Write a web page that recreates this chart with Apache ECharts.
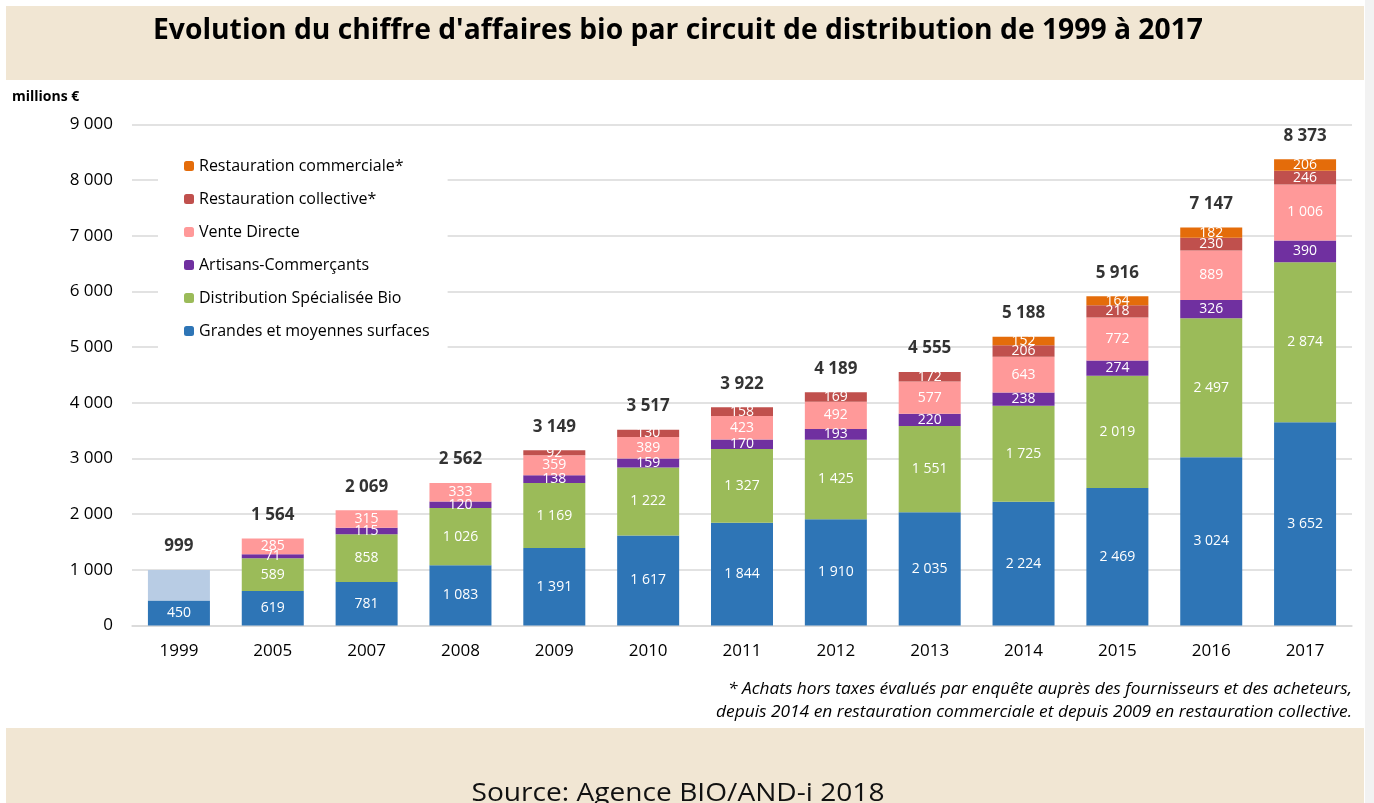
<!DOCTYPE html>
<html lang="fr">
<head>
    <meta charset="UTF-8">
    <title>Evolution du chiffre d'affaires bio</title>
    <style>
        html, body { margin: 0; padding: 0; background: #fff; }
        #main { width: 1374px; height: 803px; }
    </style>
</head>
<body>
    <div id="main"></div>

    <script src="https://cdn.jsdelivr.net/npm/echarts@6/dist/echarts.min.js"></script>
    <script>
        // données (millions €)
        var years = ['1999', '2005', '2007', '2008', '2009', '2010', '2011', '2012', '2013', '2014', '2015', '2016', '2017'];
        var grandesSurfaces = [450, 619, 781, 1083, 1391, 1617, 1844, 1910, 2035, 2224, 2469, 3024, 3652];
        var reste1999 = [549, null, null, null, null, null, null, null, null, null, null, null, null];
        var distribSpecialisee = [null, 589, 858, 1026, 1169, 1222, 1327, 1425, 1551, 1725, 2019, 2497, 2874];
        var artisans = [null, 71, 115, 120, 138, 159, 170, 193, 220, 238, 274, 326, 390];
        var venteDirecte = [null, 285, 315, 333, 359, 389, 423, 492, 577, 643, 772, 889, 1006];
        var restoCollective = [null, null, null, null, 92, 130, 158, 169, 172, 206, 218, 230, 246];
        var restoCommerciale = [null, null, null, null, null, null, null, null, null, 152, 164, 182, 206];
        var totals = [999, 1564, 2069, 2562, 3149, 3517, 3922, 4189, 4555, 5188, 5916, 7147, 8373];
        var yTicks = [0, 1000, 2000, 3000, 4000, 5000, 6000, 7000, 8000, 9000];

        var legendNames = ['Restauration commerciale*', 'Restauration collective*', 'Vente Directe',
            'Artisans-Commerçants', 'Distribution Spécialisée Bio', 'Grandes et moyennes surfaces'];

        var title = "Evolution du chiffre d'affaires bio par circuit de distribution de 1999 à 2017";
        var note1 = '* Achats hors taxes évalués par enquête auprès des fournisseurs et des acheteurs,';
        var note2 = 'depuis 2014 en restauration commerciale et depuis 2009 en restauration collective.';
        var source = 'Source: Agence BIO/AND-i 2018';

        // 1 000 -> "1 000"
        function fmt(v) {
            return String(v).replace(/\B(?=(\d{3})+(?!\d))/g, ' ');
        }

        // pas de police condensée installée : on mesure et on écrase en largeur
        var ctx = document.createElement('canvas').getContext('2d');
        function squeeze(text, font, target) {
            ctx.font = font;
            return target / ctx.measureText(text).width;
        }

        function barSeries(name, data, color, showLabel) {
            return {
                name: name,
                type: 'bar',
                stack: 'ca',
                barWidth: 62,
                data: data,
                itemStyle: { color: color },
                label: {
                    show: showLabel,
                    position: 'inside',
                    color: '#fff',
                    fontSize: 14,
                    fontFamily: 'Open Sans',
                    formatter: function (p) { return p.value ? fmt(p.value) : ''; }
                }
            };
        }

        var chardom = document.getElementById('main');
        var mychart = echarts.init(chardom);

        var titleFont = '700 29px "Open Sans"';
        var noteFont = 'italic 500 16px "Open Sans"';
        var sourceFont = '26px "Open Sans"';

        var option = {
            animation: false,
            textStyle: { fontFamily: 'Open Sans' },
            grid: { left: 132, right: 22, top: 124.5, bottom: 177.5 },
            legend: {
                orient: 'vertical',
                left: 158,
                top: 142,
                backgroundColor: '#fff',
                padding: [16, 18, 10, 26],
                itemWidth: 10,
                itemHeight: 10,
                itemGap: 17,
                selectedMode: false,
                textStyle: { fontSize: 16, color: '#000', fontFamily: 'Open Sans' },
                data: legendNames
            },
            xAxis: {
                type: 'category',
                data: years,
                axisTick: { show: false },
                axisLine: { lineStyle: { color: '#d9d9d9', width: 1.5 } },
                axisLabel: { color: '#000', fontSize: 17, margin: 17 }
            },
            yAxis: {
                type: 'value',
                min: yTicks[0],
                max: yTicks[yTicks.length - 1],
                interval: 1000,
                axisLine: { show: false },
                axisTick: { show: false },
                splitLine: { lineStyle: { color: '#d9d9d9', width: 1.5 } },
                axisLabel: { color: '#000', fontSize: 17, margin: 19, formatter: fmt }
            },
            series: [
                barSeries('Grandes et moyennes surfaces', grandesSurfaces, '#2E75B6', true),
                barSeries('1999 non détaillé', reste1999, '#B8CCE4', false),
                barSeries('Distribution Spécialisée Bio', distribSpecialisee, '#9BBB59', true),
                barSeries('Artisans-Commerçants', artisans, '#7030A0', true),
                barSeries('Vente Directe', venteDirecte, '#FF9999', true),
                barSeries('Restauration collective*', restoCollective, '#C0504D', true),
                barSeries('Restauration commerciale*', restoCommerciale, '#E46C0A', true),
                {
                    name: 'Total',
                    type: 'scatter',
                    data: totals,
                    symbolSize: 0,
                    silent: true,
                    z: 5,
                    label: {
                        show: true,
                        position: 'top',
                        distance: 15,
                        color: '#000',
                        fontSize: 17,
                        fontWeight: 'bold',
                        formatter: function (p) { return fmt(p.value); }
                    }
                }
            ],
            graphic: [
                { type: 'rect', z: -1, shape: { x: 6, y: 6, width: 1358, height: 74 }, style: { fill: '#F1E6D3' } },
                { type: 'rect', z: -1, shape: { x: 6, y: 728, width: 1358, height: 80 }, style: { fill: '#F1E6D3' } },
                { type: 'rect', z: -1, shape: { x: 1365, y: 0, width: 9, height: 803 }, style: { fill: '#f2f2f2' } },
                {
                    type: 'text', x: 678, y: 31,
                    scaleX: squeeze(title, titleFont, 1050),
                    style: { text: title, x: 0, y: 0, font: titleFont, fill: '#000', align: 'center', verticalAlign: 'middle', textAlign: 'center', textVerticalAlign: 'middle' }
                },
                {
                    type: 'text', x: 12, y: 97,
                    style: { text: 'millions €', font: '700 14px "Open Sans"', fill: '#000', verticalAlign: 'middle', textVerticalAlign: 'middle' }
                },
                {
                    type: 'text', x: 1352, y: 689,
                    scaleX: squeeze(note1, noteFont, 624),
                    style: { text: note1, x: 0, y: 0, font: noteFont, fill: '#000', align: 'right', verticalAlign: 'middle', textAlign: 'right', textVerticalAlign: 'middle' }
                },
                {
                    type: 'text', x: 1352, y: 712,
                    scaleX: squeeze(note2, noteFont, 636),
                    style: { text: note2, x: 0, y: 0, font: noteFont, fill: '#000', align: 'right', verticalAlign: 'middle', textAlign: 'right', textVerticalAlign: 'middle' }
                },
                {
                    type: 'text', x: 678, y: 794,
                    scaleX: squeeze(source, sourceFont, 413),
                    style: { text: source, x: 0, y: 0, font: sourceFont, fill: '#111', align: 'center', verticalAlign: 'middle', textAlign: 'center', textVerticalAlign: 'middle' }
                }
            ]
        };
        option && mychart.setOption(option);
    </script>
</body>
</html>
